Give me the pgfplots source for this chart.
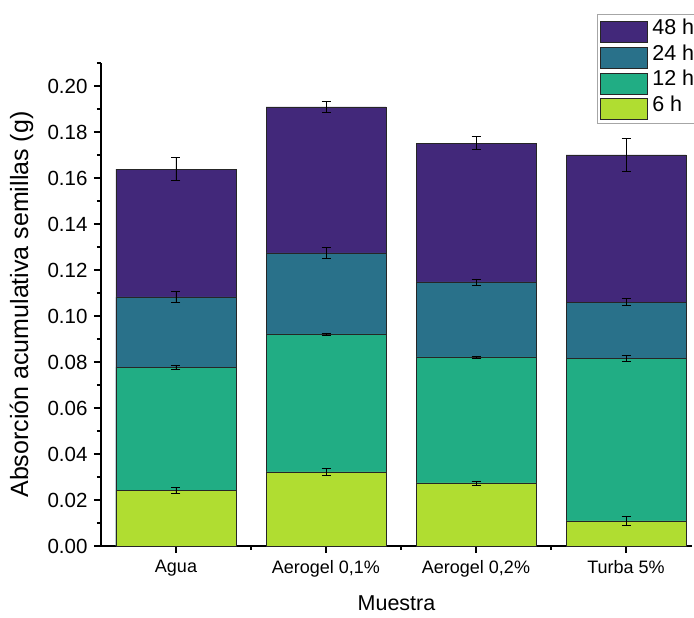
\documentclass[border=0pt]{standalone}
\usepackage{pgfplots}
\pgfplotsset{compat=1.18}
\usepackage{fontspec}
\setmainfont{Liberation Sans}
\definecolor{c48}{RGB}{66,40,122}
\definecolor{c24}{RGB}{41,113,138}
\definecolor{c12}{RGB}{33,173,132}
\definecolor{c6}{RGB}{176,221,49}
\begin{document}
\begin{tikzpicture}
\begin{axis}[
  scale only axis,
  width=591pt, height=483pt,
  xmin=-0.5, xmax=3.44,
  ymin=0, ymax=0.21,
  axis lines=left,
  axis line style={-, line width=1.4pt},
  xtick={0,1,2,3},
  xticklabels={Agua, {Aerogel 0,1\%}, {Aerogel 0,2\%}, {Turba 5\%}},
  minor xtick={0.5,1.5,2.5},
  ytick={0,0.02,...,0.201},
  minor ytick={0.01,0.03,...,0.211},
  tick align=outside,
  major tick length=7pt,
  minor tick length=4pt,
  tick style={line width=1.2pt, black},
  yticklabel style={font=\fontsize{20.5}{20.5}\selectfont, xshift=-3pt, /pgf/number format/.cd, fixed, fixed zerofill, precision=2, assume math mode=true},
  xticklabel style={font=\fontsize{18}{18}\selectfont, yshift=-4pt},
  scaled y ticks=false,
  xlabel={Muestra},
  ylabel={Absorción acumulativa semillas (g)},
  xlabel style={font=\fontsize{21.5}{21.5}\selectfont, yshift=-12pt},
  ylabel style={font=\fontsize{25}{25}\selectfont, yshift=7.5pt},
  ybar, bar width=120pt, bar shift=0pt,
  every axis plot/.append style={draw=black!85, line width=0.7pt},
  error bars/y dir=both, error bars/y explicit,
  error bars/error bar style={black, line width=0.5pt},
  error bars/error mark options={rotate=90, mark size=4.5pt, line width=0.5pt, black},
  legend style={at={(1.017,1.101)}, anchor=north east, draw=gray!70, line width=0.8pt,
    font=\fontsize{21.5}{21.5}\selectfont, row sep=1pt, inner xsep=3pt, inner ysep=3pt,
    nodes={inner xsep=4.5pt, inner ysep=1pt}},
  legend cell align=left,
  legend image code/.code={\draw[#1, line width=0.7pt] (0pt,-15pt) rectangle (47pt,6pt);},
  clip=false,
]
\addplot[fill=c48] coordinates {(0,0.1639) +- (0,0.0050) (1,0.1909) +- (0,0.0023) (2,0.1752) +- (0,0.0028) (3,0.1700) +- (0,0.0072)};
\addlegendentry{48 h}
\addplot[fill=c24] coordinates {(0,0.1083) +- (0,0.0024) (1,0.1274) +- (0,0.0025) (2,0.1148) +- (0,0.0013) (3,0.1060) +- (0,0.0015)};
\addlegendentry{24 h}
\addplot[fill=c12] coordinates {(0,0.0778) +- (0,0.0010) (1,0.0922) +- (0,0.0005) (2,0.0822) +- (0,0.0005) (3,0.0817) +- (0,0.0013)};
\addlegendentry{12 h}
\addplot[fill=c6] coordinates {(0,0.0243) +- (0,0.0013) (1,0.0322) +- (0,0.0015) (2,0.0274) +- (0,0.0008) (3,0.0109) +- (0,0.0020)};
\addlegendentry{6 h}
\end{axis}
\pgfresetboundingbox
\path (current axis.south west) ++(-101pt,-72pt) rectangle ++(694pt,618pt);
\end{tikzpicture}
\end{document}
